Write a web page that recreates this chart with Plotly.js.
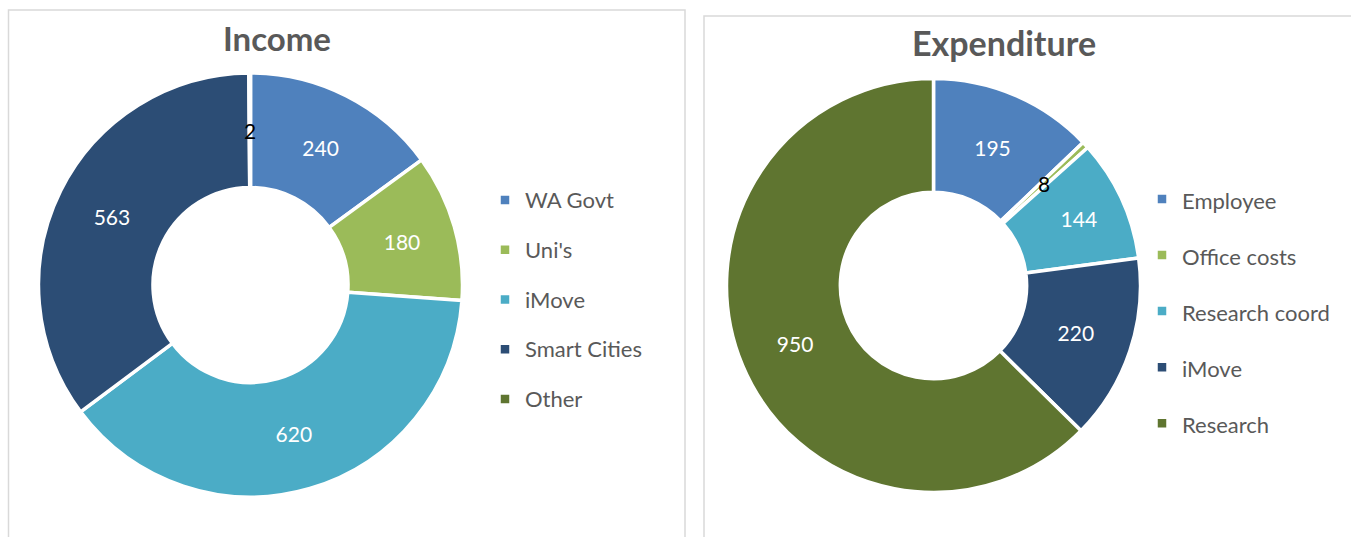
<!DOCTYPE html>
<html>
<head>
<meta charset="utf-8">
<script src="https://cdn.plot.ly/plotly-3.0.1.min.js"></script>
<style>html,body{margin:0;padding:0;background:#fff;}#chart{width:1351px;height:537px;}</style>
</head>
<body>
<div id="chart"></div>
<script>
// Income
const incomeCategories = ["WA Govt", "Uni's", "iMove", "Smart Cities", "Other"];
const incomeValues = [240, 180, 620, 563, 2];
const incomeColors = ["#4F81BD", "#9BBB59", "#4BACC6", "#2C4D75", "#5F7530"];

// Expenditure
const expCategories = ["Employee", "Office costs", "Research coord", "iMove", "Research"];
const expValues = [195, 8, 144, 220, 950];
const expColors = ["#4F81BD", "#9BBB59", "#4BACC6", "#2C4D75", "#5F7530"];

const W = 1351, H = 537;
const FONT = "Lato, 'Open Sans', sans-serif";
const SMALL = 0.01; // slices below this share get an outside-coloured label

// legend labels (distinct markup per chart so equal names are not merged)
const legendText = (c, k) => '<span style="font-size:22px;baseline-shift:6px' + (k ? ';' : '') + '">' + c + '</span>';

const donuts = [
  {cats: incomeCategories, vals: incomeValues, cols: incomeColors, cx: 250.5, cy: 285, r: 212, hole: 0.46, legend: 'legend'},
  {cats: expCategories, vals: expValues, cols: expColors, cx: 933.5, cy: 285.5, r: 207, hole: 0.45, legend: 'legend2'}
];

const traces = [];
const smallLabels = [];
donuts.forEach((d, k) => {
  const total = d.vals.reduce((a, b) => a + b, 0);
  let cum = 0;
  const texts = d.vals.map(v => {
    const share = v / total;
    const mid = (cum + v / 2) / total * 2 * Math.PI;
    cum += v;
    if (share < SMALL) {
      const rm = d.r * (1 + d.hole) / 2;
      smallLabels.push({
        text: String(v), xref: 'paper', yref: 'paper',
        x: (d.cx + rm * Math.sin(mid)) / W,
        y: 1 - (d.cy - rm * Math.cos(mid)) / H,
        xanchor: 'center', yanchor: 'middle', showarrow: false,
        font: {family: FONT, size: 21, color: '#000000'}
      });
      return '';
    }
    return String(v);
  });
  traces.push({
    type: 'pie',
    labels: d.cats.map(c => legendText(c, k)),
    values: d.vals,
    text: texts,
    sort: false,
    direction: 'clockwise',
    rotation: 0,
    hole: d.hole,
    domain: {x: [(d.cx - d.r) / W, (d.cx + d.r) / W], y: [(H - d.cy - d.r) / H, (H - d.cy + d.r) / H]},
    marker: {colors: d.cols, line: {color: '#FFFFFF', width: 3.5}},
    textinfo: 'text',
    textposition: 'inside',
    insidetextorientation: 'horizontal',
    textfont: {family: FONT, size: 21, color: '#FFFFFF'},
    legend: d.legend,
    hoverinfo: 'skip'
  });
});

const layout = {
  width: W, height: H,
  margin: {l: 0, r: 0, t: 0, b: 0},
  paper_bgcolor: '#FFFFFF',
  font: {family: FONT, color: '#595959'},
  showlegend: true,
  legend: {
    x: 485 / W, xanchor: 'left',
    y: 1 - 170 / H, yanchor: 'top',
    font: {family: FONT, size: 36, color: '#595959'},
    bgcolor: 'rgba(0,0,0,0)', itemclick: false
  },
  legend2: {
    x: 1142 / W, xanchor: 'left',
    y: 1 - 166 / H, yanchor: 'top',
    font: {family: FONT, size: 40.8, color: '#595959'},
    bgcolor: 'rgba(0,0,0,0)', itemclick: false
  },
  shapes: [
    {type: 'rect', xref: 'paper', yref: 'paper', x0: 8.5 / W, x1: 685 / W, y0: -0.05, y1: 1 - 10 / H,
     line: {color: '#D9D9D9', width: 1.5}, fillcolor: 'rgba(0,0,0,0)', layer: 'below'},
    {type: 'rect', xref: 'paper', yref: 'paper', x0: 704 / W, x1: 1.05, y0: -0.05, y1: 1 - 16 / H,
     line: {color: '#D9D9D9', width: 1.5}, fillcolor: 'rgba(0,0,0,0)', layer: 'below'}
  ],
  annotations: [
    {text: '<b>Income</b>', xref: 'paper', yref: 'paper', x: 277 / W, y: 1 - 38 / H,
     xanchor: 'center', yanchor: 'middle', showarrow: false,
     font: {family: FONT, size: 33, color: '#595959'}},
    {text: '<b>Expenditure</b>', xref: 'paper', yref: 'paper', x: 1003.5 / W, y: 1 - 43 / H,
     xanchor: 'center', yanchor: 'middle', showarrow: false,
     font: {family: FONT, size: 34, color: '#595959'}}
  ].concat(smallLabels)
};

Plotly.newPlot('chart', traces, layout, {displayModeBar: false, staticPlot: true});
</script>
</body>
</html>
